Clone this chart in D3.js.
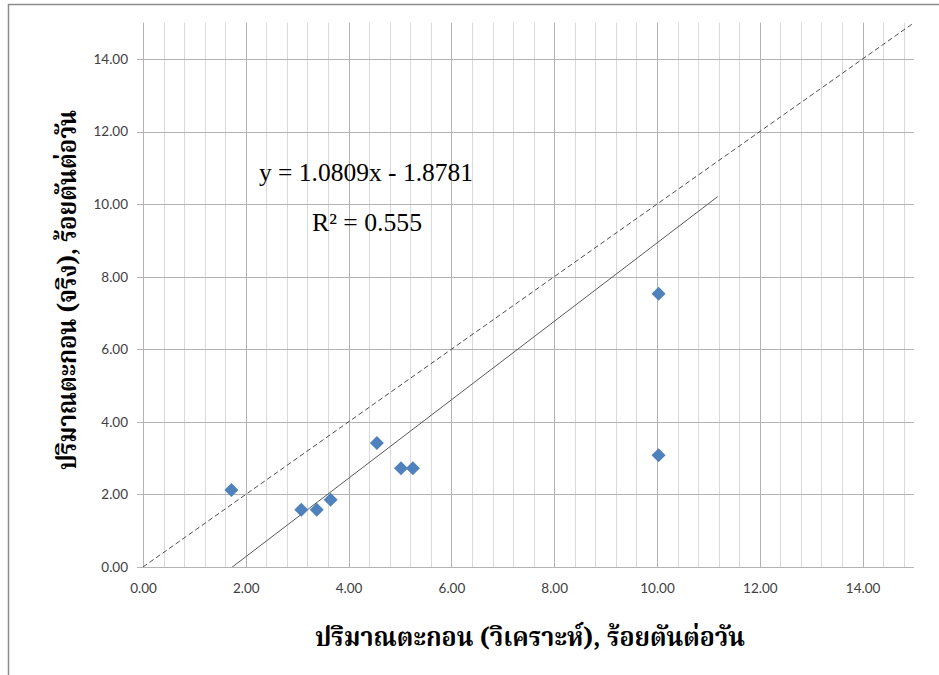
<!DOCTYPE html>
<html>
<head>
<meta charset="utf-8">
<script src="https://cdn.jsdelivr.net/npm/d3@7/dist/d3.min.js"></script>
<style>
  html, body { margin: 0; padding: 0; background: #fff; }
  svg { display: block; }
</style>
</head>
<body>
<script>
// Sediment load: analysed vs. measured (hundred tonnes per day)
const analysedX = [1.72, 3.08, 3.38, 3.65, 4.55, 5.02, 5.25, 10.03, 10.03];
const measuredY = [2.12, 1.58, 1.58, 1.85, 3.42, 2.72, 2.72, 7.53, 3.08];
const trendSlope = 1.0809;
const trendIntercept = -1.8781;
const trendR2 = 0.555;
const trendRange = [1.72, 11.18];
const tickValues = [0, 2, 4, 6, 8, 10, 12, 14];
const minorStep = 0.4;
const xTitle = "ปริมาณตะกอน (วิเคราะห์), ร้อยตันต่อวัน";
const yTitle = "ปริมาณตะกอน (จริง), ร้อยตันต่อวัน";

const W = 939, H = 675;
const svg = d3.select("body").append("svg").attr("width", W).attr("height", H);

// chart frame (top and left edges)
svg.append("path")
  .attr("d", `M8.5,${H} L8.5,4.5 L${W},4.5`)
  .attr("fill", "none").attr("stroke", "#8c8c8c").attr("stroke-width", 1.5);

const x = d3.scaleLinear().domain([0, 15]).range([143, 914]);
const y = d3.scaleLinear().domain([0, 15]).range([567, 22.7]);

const grid = svg.append("g");
// minor vertical gridlines
const minor = d3.range(0, 15 + 1e-9, minorStep).filter(v => Math.abs(v / 2 - Math.round(v / 2)) > 1e-6);
grid.selectAll("line.minor").data(minor).join("line")
  .attr("x1", d => Math.round(x(d)) + 0.5).attr("x2", d => Math.round(x(d)) + 0.5)
  .attr("y1", y(15)).attr("y2", y(0))
  .attr("stroke", "#d9d9d9").attr("stroke-width", 1);
// major vertical gridlines
grid.selectAll("line.majv").data(tickValues).join("line")
  .attr("x1", d => Math.round(x(d)) + 0.5).attr("x2", d => Math.round(x(d)) + 0.5)
  .attr("y1", y(15)).attr("y2", y(0))
  .attr("stroke", "#b3b3b3").attr("stroke-width", 1);
// major horizontal gridlines (extended slightly left as tick marks)
grid.selectAll("line.majh").data(tickValues).join("line")
  .attr("x1", x(0) - 6).attr("x2", x(15))
  .attr("y1", d => Math.round(y(d)) + 0.5).attr("y2", d => Math.round(y(d)) + 0.5)
  .attr("stroke", "#b3b3b3").attr("stroke-width", 1);

// axes (labels only; lines come from the grid)
const fmt = d3.format(".2f");
const xAxis = svg.append("g").attr("transform", `translate(0,${y(0)})`)
  .call(d3.axisBottom(x).tickValues(tickValues).tickFormat(fmt).tickSize(0).tickPadding(16));
const yAxis = svg.append("g").attr("transform", `translate(${x(0)},0)`)
  .call(d3.axisLeft(y).tickValues(tickValues).tickFormat(fmt).tickSize(0).tickPadding(15));
[xAxis, yAxis].forEach(g => {
  g.select(".domain").remove();
  g.selectAll("text").attr("fill", "#404040")
    .style("font-family", "Lato, 'Open Sans', sans-serif").style("font-size", "13.5px");
});

const clipId = "plotclip";
svg.append("clipPath").attr("id", clipId).append("rect")
  .attr("x", x(0)).attr("y", y(15)).attr("width", x(15) - x(0)).attr("height", y(0) - y(15));
const plot = svg.append("g").attr("clip-path", `url(#${clipId})`);

// y = x reference line
plot.append("line")
  .attr("x1", x(0)).attr("y1", y(0)).attr("x2", x(15)).attr("y2", y(15))
  .attr("stroke", "#4d4d4d").attr("stroke-width", 1).attr("stroke-dasharray", "5,3");

// linear trendline
const trend = v => trendSlope * v + trendIntercept;
plot.append("line")
  .attr("x1", x(trendRange[0])).attr("y1", y(trend(trendRange[0])))
  .attr("x2", x(trendRange[1])).attr("y2", y(trend(trendRange[1])))
  .attr("stroke", "#595959").attr("stroke-width", 1);

// points
const pts = analysedX.map((v, i) => [v, measuredY[i]]);
svg.append("g").selectAll("path").data(pts).join("path")
  .attr("transform", d => `translate(${x(d[0])},${y(d[1])})`)
  .attr("d", "M0,-7 L7,0 L0,7 L-7,0 Z")
  .attr("fill", "#4f81bd");

// trendline labels
svg.append("text").attr("x", 366).attr("y", 181).attr("text-anchor", "middle")
  .style("font-family", "'Liberation Serif', serif").style("font-size", "25px").attr("fill", "#000")
  .attr("textLength", 214).attr("lengthAdjust", "spacingAndGlyphs")
  .text(`y = ${trendSlope}x - ${Math.abs(trendIntercept)}`);
svg.append("text").attr("x", 367).attr("y", 231).attr("text-anchor", "middle")
  .style("font-family", "'Liberation Serif', serif").style("font-size", "25px").attr("fill", "#000")
  .attr("textLength", 110).attr("lengthAdjust", "spacingAndGlyphs")
  .text(`R² = ${trendR2}`);

// axis titles
const thaiFont = "'Noto Serif Thai', 'Noto Sans Thai Looped', 'Noto Sans Thai', 'DejaVu Sans', sans-serif";
svg.append("text").attr("x", 530).attr("y", 646).attr("text-anchor", "middle")
  .style("font-family", thaiFont).style("font-size", "26px").style("font-weight", "bold").attr("fill", "#000")
  .attr("textLength", 430).attr("lengthAdjust", "spacingAndGlyphs")
  .text(xTitle);
svg.append("text").attr("transform", "translate(76,290) rotate(-90)").attr("text-anchor", "middle")
  .style("font-family", thaiFont).style("font-size", "26px").style("font-weight", "bold").attr("fill", "#000")
  .attr("textLength", 360).attr("lengthAdjust", "spacingAndGlyphs")
  .text(yTitle);
</script>
</body>
</html>
